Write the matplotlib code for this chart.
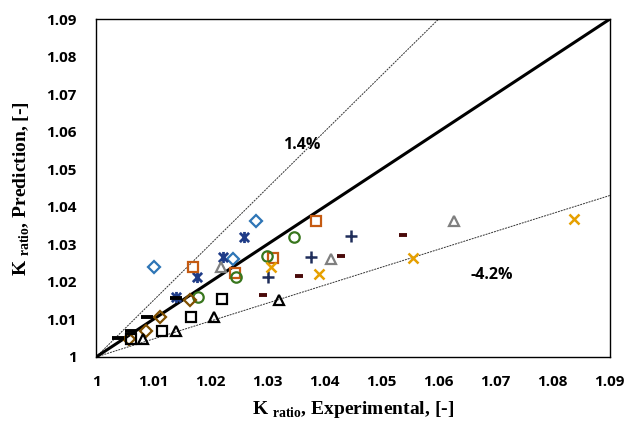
import matplotlib
matplotlib.use("Agg")
import matplotlib.pyplot as plt
from matplotlib.path import Path
import numpy as np

plt.rcParams['mathtext.fontset'] = 'custom'
plt.rcParams['mathtext.rm'] = 'Liberation Serif'

# Series data (x = experimental, y = prediction)
blue_diamond_x = [1.0102, 1.0240, 1.0280]
blue_diamond_y = [1.0240, 1.0261, 1.0363]
navy_star_x = [1.0140, 1.0176, 1.0223, 1.0259]
navy_star_y = [1.0161, 1.0214, 1.0267, 1.0320]
orange_square_x = [1.0169, 1.0244, 1.0310, 1.0385]
orange_square_y = [1.0240, 1.0223, 1.0263, 1.0363]
grey_triangle_x = [1.0219, 1.0412, 1.0627]
grey_triangle_y = [1.0239, 1.0261, 1.0363]
green_circle_x = [1.0179, 1.0246, 1.0300, 1.0347]
green_circle_y = [1.0161, 1.0214, 1.0269, 1.0320]
brown_diamond_x = [1.0057, 1.0088, 1.0112, 1.0165]
brown_diamond_y = [1.0047, 1.0070, 1.0106, 1.0153]
black_dash_x = [1.0039, 1.0062, 1.0089, 1.0140]
black_dash_y = [1.0050, 1.0070, 1.0107, 1.0158]
black_square_x = [1.0062, 1.0115, 1.0167, 1.0221]
black_square_y = [1.0048, 1.0070, 1.0107, 1.0155]
black_triangle_x = [1.0083, 1.0140, 1.0207, 1.0321]
black_triangle_y = [1.0047, 1.0070, 1.0107, 1.0153]
darkred_dash_x = [1.0293, 1.0355, 1.0429, 1.0538]
darkred_dash_y = [1.0165, 1.0216, 1.0270, 1.0325]
navy_plus_x = [1.0302, 1.0376, 1.0446]
navy_plus_y = [1.0214, 1.0267, 1.0322]
gold_x_x = [1.0306, 1.0391, 1.0555, 1.0837]
gold_x_y = [1.0239, 1.0221, 1.0264, 1.0367]

upper_slope = 1.5
lower_slope = 0.478
ticks = [1, 1.01, 1.02, 1.03, 1.04, 1.05, 1.06, 1.07, 1.08, 1.09]
tick_labels = ['1', '1.01', '1.02', '1.03', '1.04', '1.05', '1.06', '1.07', '1.08', '1.09']

# Excel-style star marker: an X with a vertical bar
star_path = Path([(-1, -1), (1, 1), (-1, 1), (1, -1), (0, -1.2), (0, 1.2)],
                 [Path.MOVETO, Path.LINETO, Path.MOVETO, Path.LINETO, Path.MOVETO, Path.LINETO])

fig = plt.figure(figsize=(6.28, 4.25), dpi=100)
ax = fig.add_axes([0.153, 0.16, 0.818, 0.795])
ax.set_xlim(1, 1.09)
ax.set_ylim(1, 1.09)

xs = np.array([1.0, 1.09])
ax.plot(xs, xs, color='black', lw=2.2, zorder=3)
ax.plot(xs, 1 + upper_slope * (xs - 1), color='#333333', lw=0.7, ls=(0, (2, 1)), zorder=2)
ax.plot(xs, 1 + lower_slope * (xs - 1), color='#333333', lw=0.7, ls=(0, (2, 1)), zorder=2)

ms = 7.5
mew = 1.6
def sc(x, y, marker, color, size=ms, lw=mew, filled=False):
    ax.plot(x, y, ls='none', marker=marker, ms=size, mew=lw,
            mec=color, mfc=(color if filled else 'none'), zorder=4)

sc(blue_diamond_x, blue_diamond_y, 'D', '#2e75b6', size=5.8)
sc(navy_star_x, navy_star_y, star_path, '#1f3c88', size=8, lw=2)
sc(orange_square_x, orange_square_y, 's', '#c55a11')
sc(grey_triangle_x, grey_triangle_y, '^', '#7f7f7f')
sc(green_circle_x, green_circle_y, 'o', '#38761d')
sc(brown_diamond_x, brown_diamond_y, 'D', '#7f4f00', size=5.8)
sc(black_dash_x, black_dash_y, '_', 'black', size=9, lw=2.8)
sc(black_square_x, black_square_y, 's', 'black')
sc(black_triangle_x, black_triangle_y, '^', 'black')
sc(darkred_dash_x, darkred_dash_y, '_', '#4a0a0a', size=5.5, lw=2.8)
sc(navy_plus_x, navy_plus_y, '+', '#1f2d5a', size=8.5, lw=1.8)
sc(gold_x_x, gold_x_y, 'x', '#e6a000', size=7.5, lw=1.8)

ax.text(1.036, 1.0566, '1.4%', fontsize=11.5, fontweight='bold', family='Open Sans',
        ha='center', va='center')
ax.text(1.0693, 1.0218, '-4.2%', fontsize=11.5, fontweight='bold', family='Open Sans',
        ha='center', va='center')

ax.set_xticks(ticks)
ax.set_xticklabels(tick_labels)
ax.set_yticks(ticks)
ax.set_yticklabels(tick_labels)
ax.tick_params(length=0, pad=13, labelsize=11)
ax.tick_params(axis='y', pad=14)
for lab in ax.get_xticklabels() + ax.get_yticklabels():
    lab.set_fontweight('bold')
    lab.set_family('Open Sans')

for s in ax.spines.values():
    s.set_linewidth(1.0)
    s.set_color('black')

ax.set_xlabel(r'K $_{\mathregular{ratio}}$, Experimental, [-]', fontsize=14,
              family='Liberation Serif', fontweight='bold', labelpad=7)
ax.set_ylabel(r'K $_{\mathregular{ratio}}$, Prediction, [-]', fontsize=14,
              family='Liberation Serif', fontweight='bold', labelpad=10)

fig.savefig('out.png', dpi=100)
